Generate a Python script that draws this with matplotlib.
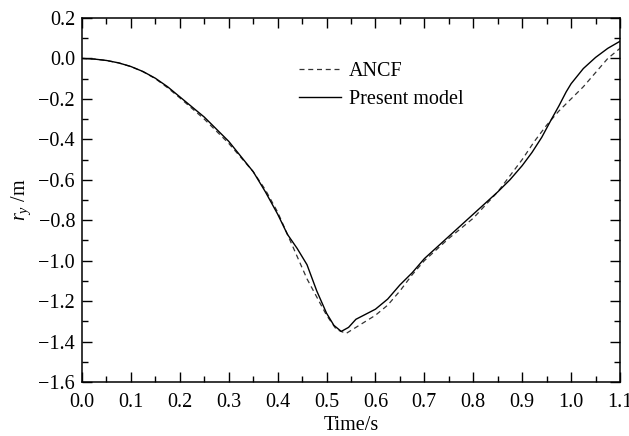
import numpy as np
import matplotlib
matplotlib.use("Agg")
import matplotlib.pyplot as plt
from matplotlib.ticker import MultipleLocator

plt.rcParams["font.family"] = ["Liberation Serif", "DejaVu Serif"]
plt.rcParams["mathtext.fontset"] = "custom"
plt.rcParams["mathtext.rm"] = "Liberation Serif"
plt.rcParams["mathtext.it"] = "Liberation Serif:italic"

# ANCF reference solution
t_ancf = [0, 0.025, 0.05, 0.075, 0.1, 0.125, 0.15, 0.175, 0.2, 0.25, 0.3, 0.35, 0.375, 0.4,
          0.42, 0.44, 0.46, 0.48, 0.5, 0.52, 0.54, 0.56, 0.58, 0.6, 0.625, 0.65, 0.675,
          0.7, 0.75, 0.8, 0.85, 0.875, 0.9, 0.925, 0.95, 0.975, 1.0, 1.025, 1.05, 1.075, 1.1]
ry_ancf = [0, -0.003, -0.01, -0.022, -0.04, -0.066, -0.1, -0.145, -0.195, -0.3, -0.42,
           -0.56, -0.65, -0.76, -0.87, -0.98, -1.09, -1.18, -1.27, -1.34, -1.36, -1.33,
           -1.30, -1.27, -1.22, -1.15, -1.07, -1.0, -0.89, -0.79, -0.66, -0.58, -0.5,
           -0.41, -0.33, -0.26, -0.2, -0.14, -0.07, 0.0, 0.05]

# present model
t_model = [0, 0.025, 0.05, 0.075, 0.1, 0.125, 0.15, 0.175, 0.2, 0.25, 0.3, 0.35, 0.375, 0.4,
           0.42, 0.44, 0.46, 0.48, 0.5, 0.515, 0.53, 0.545, 0.56, 0.58, 0.6, 0.625, 0.65,
           0.675, 0.7, 0.75, 0.8, 0.85, 0.875, 0.9, 0.92, 0.94, 0.96, 0.975, 0.99, 1.0,
           1.025, 1.05, 1.075, 1.1]
ry_model = [0, -0.003, -0.01, -0.022, -0.04, -0.065, -0.098, -0.14, -0.19, -0.29, -0.41,
            -0.56, -0.66, -0.77, -0.87, -0.94, -1.02, -1.15, -1.26, -1.32, -1.35, -1.33,
            -1.29, -1.265, -1.24, -1.19, -1.12, -1.06, -0.99, -0.88, -0.77, -0.66, -0.6,
            -0.53, -0.465, -0.39, -0.3, -0.235, -0.165, -0.125, -0.05, 0.005, 0.05, 0.085]

fig = plt.figure(figsize=(6.29, 4.36), dpi=100)
ax = fig.add_axes([0.1304, 0.1239, 0.8553, 0.8348])

ax.plot(t_ancf, ry_ancf, color="#333333", lw=0.9, ls=(0, (4, 3)), label="ANCF")
ax.plot(t_model, ry_model, color="black", lw=1.0, label="Present model")

ax.set_xlim(0, 1.1)
ax.set_ylim(-1.6, 0.2)
ax.xaxis.set_major_locator(MultipleLocator(0.1))
ax.xaxis.set_minor_locator(MultipleLocator(0.05))
ax.yaxis.set_major_locator(MultipleLocator(0.2))
ax.yaxis.set_minor_locator(MultipleLocator(0.1))
ax.xaxis.set_major_formatter(plt.FuncFormatter(lambda v, p: f"{v:.1f}"))
ax.yaxis.set_major_formatter(plt.FuncFormatter(lambda v, p: f"{v:.1f}".replace("-", "\u2212")))

ax.tick_params(which="both", direction="in", top=True, right=True, width=1.0,
               labelsize=14.5)
ax.tick_params(axis="x", pad=8)
ax.tick_params(axis="y", pad=5)
ax.tick_params(which="major", length=7)
ax.tick_params(which="minor", length=4)
for s in ax.spines.values():
    s.set_linewidth(1.1)

ax.set_xlabel("Time/s", fontsize=14.5, labelpad=3)
ax.set_ylabel(r"$r_y$ /m", fontsize=14.5, labelpad=4)

ax.legend(loc="upper left", bbox_to_anchor=(0.37, 0.93), frameon=False, fontsize=14.5,
          handlelength=2.1, handletextpad=0.35, labelspacing=0.45)

fig.savefig("out.png", dpi=100)
